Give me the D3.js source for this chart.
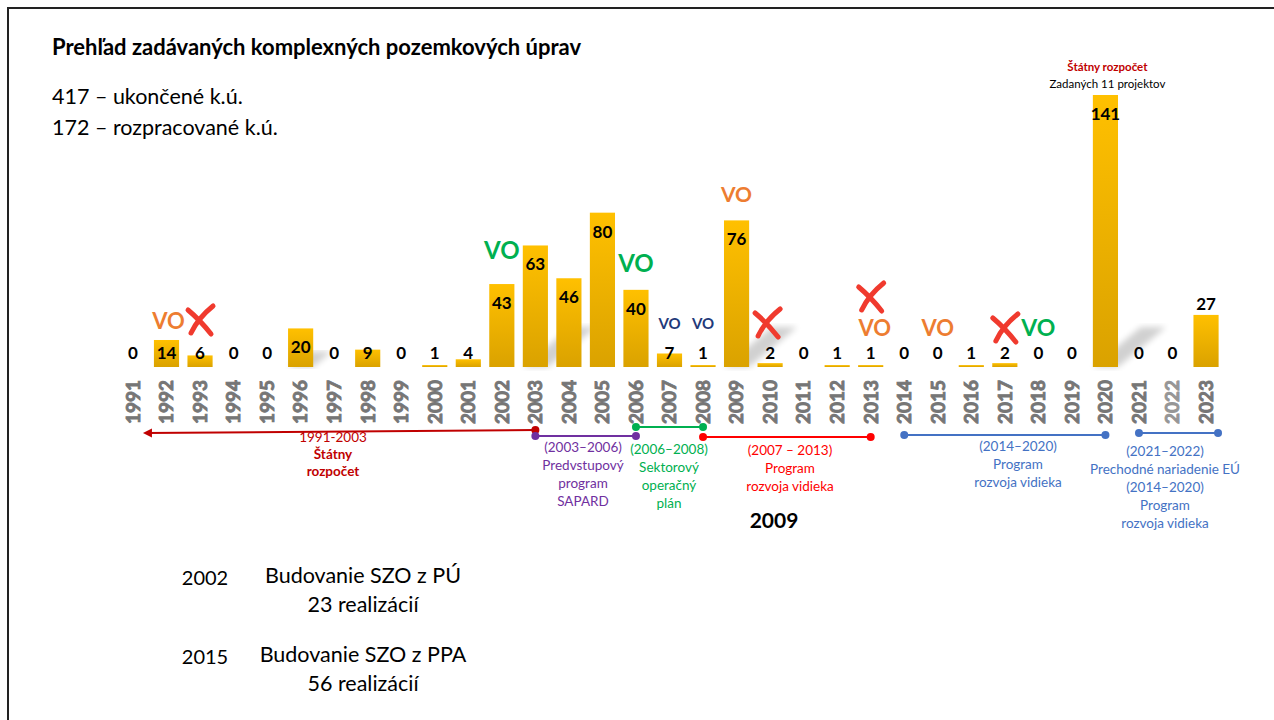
<!DOCTYPE html>
<html>
<head>
<meta charset="utf-8">
<script src="https://cdn.jsdelivr.net/npm/d3@7"></script>
<style>
  body { margin: 0; background: #fff; }
  svg { font-family: Lato, "Open Sans", sans-serif; }
</style>
</head>
<body>
<svg id="chart" width="1274" height="720"></svg>
<script>
// data
var years = ['1991','1992','1993','1994','1995','1996','1997','1998','1999','2000','2001','2002',
  '2003','2004','2005','2006','2007','2008','2009','2010','2011','2012','2013','2014','2015',
  '2016','2017','2018','2019','2020','2021','2022','2023'];
var counts = [0,14,6,0,0,20,0,9,0,1,4,43,63,46,80,40,7,1,76,2,0,1,1,0,0,1,2,0,0,141,0,0,27];

// "VO" markers above bars
var voYears  = ['1992','2002','2006','2007','2008','2009','2013','2015','2018'];
var voColors = ['orange','green','green','navy','navy','orange','orange','orange','green'];
// red crosses
var crossYears = ['1993','2010','2013','2017'];

// programme periods under the axis
var periodNames = ['1991-2003','(2003–2006)','(2006–2008)','(2007 – 2013)','(2014–2020)','(2021–2022)'];
var periodFrom  = ['2003','2003','2006','2008','2014','2021'];
var periodTo    = ['1991','2006','2008','2013','2020','2023'];
var periodText  = [
  ['Štátny','rozpočet'],
  ['Predvstupový','program','SAPARD'],
  ['Sektorový','operačný','plán'],
  ['Program','rozvoja vidieka'],
  ['Program','rozvoja vidieka'],
  ['Prechodné nariadenie EÚ','(2014–2020)','Program','rozvoja vidieka']
];

var palette = { orange: '#ED7D31', green: '#00B050', navy: '#1F3A7A' };
var periodColors = ['#C00000','#7030A0','#00B050','#FF0000','#4472C4','#4472C4'];

var svg = d3.select('#chart');
var baseY = 367;

var x = d3.scaleBand()
  .domain(years)
  .range([116.2, 1222.8])
  .paddingInner(0.25)
  .paddingOuter(0.125);
var y = d3.scaleLinear()
  .domain([0, 141])
  .range([baseY, 95]);
var cx = d => x(d) + x.bandwidth() / 2;

// slide frame
svg.append('path')
  .attr('d', 'M8,720 L8,8 L1274,8')
  .attr('fill', 'none')
  .attr('stroke', '#222')
  .attr('stroke-width', 2);

// headings
svg.append('text').attr('x', 52).attr('y', 55)
  .attr('font-size', 22).attr('font-weight', 'bold')
  .text('Prehľad zadávaných komplexných pozemkových úprav');
svg.append('text').attr('x', 52).attr('y', 104).attr('font-size', 21.5)
  .text('417 – ukončené k.ú.');
svg.append('text').attr('x', 52).attr('y', 135).attr('font-size', 21.5)
  .text('172 – rozpracované k.ú.');

// gradient for bars
var defs = svg.append('defs');
var grad = defs.append('linearGradient').attr('id', 'barGrad')
  .attr('x1', 0).attr('y1', 0).attr('x2', 0).attr('y2', 1);
grad.append('stop').attr('offset', '0%').attr('stop-color', '#FFC000');
grad.append('stop').attr('offset', '100%').attr('stop-color', '#DAA200');
defs.append('filter').attr('id', 'blur')
  .append('feGaussianBlur').attr('stdDeviation', 3);

// soft perspective shadows behind a few bars
var shadowYears = ['1996','2003','2009','2020'];
svg.append('g').selectAll('path')
  .data(shadowYears)
  .join('path')
  .attr('d', d => {
    var l = x(d), r = x(d) + x.bandwidth();
    var h = Math.min(40, (baseY - y(counts[years.indexOf(d)])) * 0.4);
    return 'M' + l + ',' + baseY + ' L' + r + ',' + baseY +
      ' L' + (r + h * 1.2) + ',' + (baseY - h) + ' L' + (l + h * 1.2) + ',' + (baseY - h) + 'Z';
  })
  .attr('fill', '#000')
  .attr('opacity', 0.18)
  .attr('filter', 'url(#blur)');

// bars
var data = years.map((d, i) => ({ year: d, value: counts[i] }));
svg.append('g').selectAll('rect')
  .data(data.filter(d => d.value > 0))
  .join('rect')
  .attr('x', d => x(d.year))
  .attr('y', d => y(d.value))
  .attr('width', x.bandwidth())
  .attr('height', d => baseY - y(d.value))
  .attr('fill', 'url(#barGrad)');

// value labels
var aboveBar = ['2023'];
svg.append('g').selectAll('text')
  .data(data)
  .join('text')
  .attr('x', d => cx(d.year))
  .attr('y', d => aboveBar.includes(d.year) ? y(d.value) - 5 : Math.min(y(d.value) + 25, 359))
  .attr('text-anchor', 'middle')
  .attr('font-size', 17)
  .attr('font-weight', 'bold')
  .attr('fill', '#000')
  .text(d => d.value);

// year axis labels
var axis = d3.axisBottom(x).tickSize(0).tickPadding(0);
var axisG = svg.append('g').attr('transform', 'translate(0,' + (baseY + 13) + ')').call(axis);
axisG.select('.domain').remove();
axisG.selectAll('text')
  .attr('transform', 'rotate(-90)')
  .attr('x', 0).attr('y', 0).attr('dy', '0.36em')
  .attr('text-anchor', 'end')
  .style('font-family', 'Lato, sans-serif')
  .style('font-size', '19px')
  .style('font-weight', 'bold')
  .style('fill', d => d == '2022' ? '#969696' : '#767676')
  .style('stroke', d => d == '2022' ? '#969696' : '#767676')
  .style('stroke-width', '0.9px');

// VO markers
var voBase = { '1992': 329, '2002': 259, '2006': 272, '2007': 329, '2008': 329,
  '2009': 202, '2013': 336, '2015': 336, '2018': 336 };
var voSize = { navy: 15, orange: 22, green: 24 };
svg.append('g').selectAll('text')
  .data(voYears)
  .join('text')
  .attr('x', d => cx(d) + (d == '1992' ? 2 : 0) + (d == '2013' ? 4 : 0))
  .attr('y', d => voBase[d])
  .attr('text-anchor', 'middle')
  .attr('font-size', (d, i) => voSize[voColors[i]] - (d == '2018' || d == '2009' ? 1 : 0))
  .attr('font-weight', 'bold')
  .attr('fill', (d, i) => palette[voColors[i]])
  .text('VO');

// red brush crosses
var crossY = { '1993': 320, '2010': 323, '2013': 297, '2017': 328 };
var crossG = svg.append('g').selectAll('g')
  .data(crossYears)
  .join('g')
  .attr('transform', d => 'translate(' + (cx(d) + (d == '2010' ? -3 : 0)) + ',' + crossY[d] + ')');
crossG.append('path')
  .attr('d', 'M-12,-10 Q0,0 11,14')
  .attr('fill', 'none').attr('stroke', '#F03A2E')
  .attr('stroke-width', 5).attr('stroke-linecap', 'round');
crossG.append('path')
  .attr('d', 'M13,-14 Q-2,-2 -9,13')
  .attr('fill', 'none').attr('stroke', '#F03A2E')
  .attr('stroke-width', 5).attr('stroke-linecap', 'round');

// periods under the axis
var lineY = [430, 436, 427, 437, 435, 433];
var textX = [333, 583, 669, 790, 1018, 1165];
var textY = [442, 452, 454, 455, 451, 456];
var pg = svg.append('g');
periodNames.forEach((name, i) => {
  var col = periodColors[i];
  var x1 = cx(periodFrom[i]);
  var x2 = i == 0 ? cx(periodTo[i]) + 12 : cx(periodTo[i]) + (i == 5 ? 12 : 0);
  pg.append('line')
    .attr('x1', x1).attr('y1', lineY[i])
    .attr('x2', x2).attr('y2', lineY[i] + (i == 0 ? 3 : 0))
    .attr('stroke', col).attr('stroke-width', 2);
  pg.append('circle').attr('cx', x1).attr('cy', lineY[i]).attr('r', 4).attr('fill', col);
  if (i == 0) {
    pg.append('path')
      .attr('d', 'M' + (x2 - 2) + ',' + (lineY[i] + 3) + ' l9,-4.5 l0,9 Z')
      .attr('fill', col);
  } else {
    pg.append('circle').attr('cx', x2).attr('cy', lineY[i]).attr('r', 4).attr('fill', col);
  }
  var t = pg.append('text')
    .attr('x', textX[i]).attr('y', textY[i])
    .attr('text-anchor', 'middle')
    .attr('font-size', 13.5)
    .attr('fill', col);
  t.append('tspan').attr('x', textX[i]).text(name);
  periodText[i].forEach((line, j) => {
    t.append('tspan')
      .attr('x', textX[i])
      .attr('dy', i == 0 ? 17 : 18)
      .attr('font-weight', i == 0 ? 'bold' : 'normal')
      .text(line);
  });
});

svg.append('text').attr('x', 774).attr('y', 528)
  .attr('text-anchor', 'middle')
  .attr('font-size', 21).attr('font-weight', 'bold')
  .text('2009');

// note over the 2020 bar
svg.append('text').attr('x', cx('2020') + 2).attr('y', 71)
  .attr('text-anchor', 'middle').attr('font-size', 11.5)
  .attr('font-weight', 'bold').attr('fill', '#C00000')
  .text('Štátny rozpočet');
svg.append('text').attr('x', cx('2020') + 2).attr('y', 88)
  .attr('text-anchor', 'middle').attr('font-size', 11.5)
  .text('Zadaných 11 projektov');

// bottom notes
var notesYear = ['2002', '2015'];
var notesLine1 = ['Budovanie SZO z PÚ', 'Budovanie SZO z PPA'];
var notesLine2 = ['23 realizácií', '56 realizácií'];
var notesTop = [585, 664];
notesYear.forEach((yr, i) => {
  svg.append('text').attr('x', 205).attr('y', notesTop[i])
    .attr('text-anchor', 'middle').attr('font-size', 20).text(yr);
  svg.append('text').attr('x', 363).attr('y', notesTop[i] - 2)
    .attr('text-anchor', 'middle').attr('font-size', 21.5).text(notesLine1[i]);
  svg.append('text').attr('x', 363).attr('y', notesTop[i] + 27)
    .attr('text-anchor', 'middle').attr('font-size', 21.5).text(notesLine2[i]);
});
</script>
</body>
</html>
